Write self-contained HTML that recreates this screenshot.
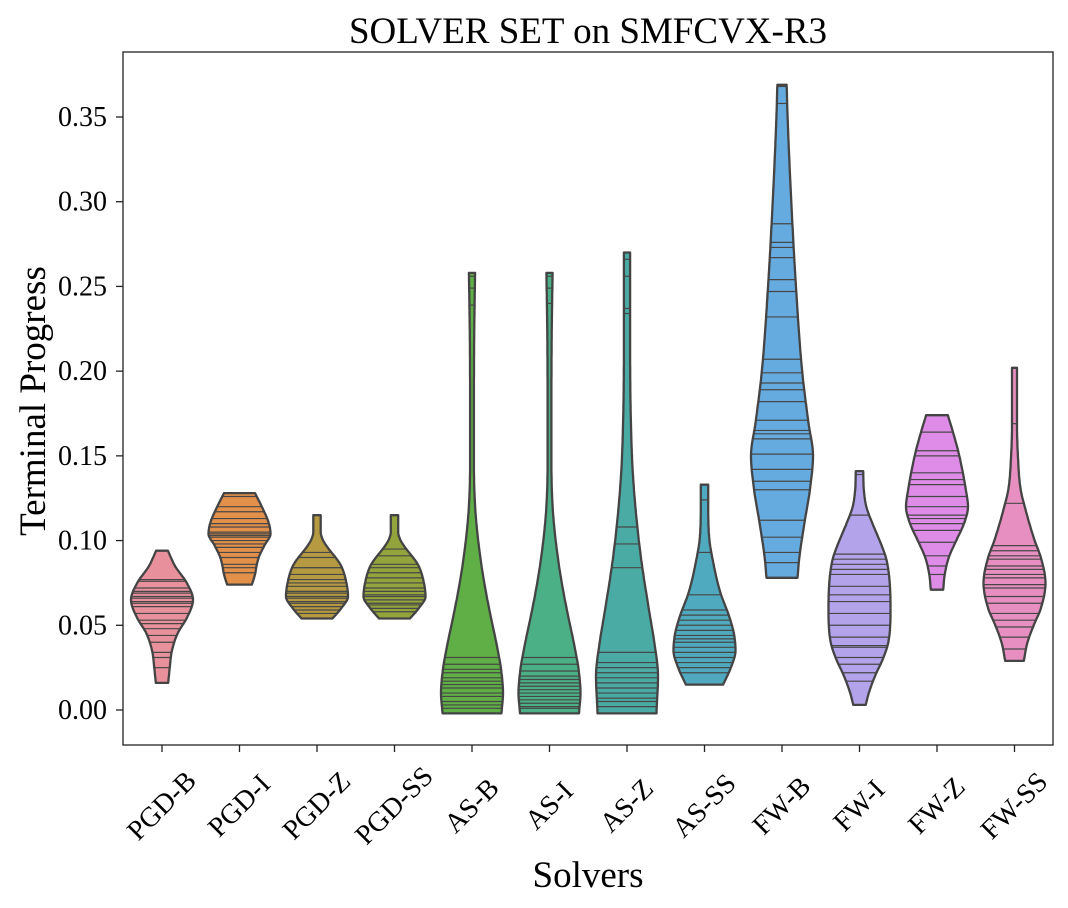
<!DOCTYPE html>
<html><head><meta charset="utf-8"><style>
html,body{margin:0;padding:0;background:#fff;}
svg{display:block;font-family:"Liberation Serif",serif;}
</style></head><body>
<svg id="chart" width="1068" height="908" viewBox="0 0 1068 908">
<text x="588" y="43" font-size="37" text-anchor="middle">SOLVER SET on SMFCVX-R3</text>
<text x="588" y="887" font-size="37" text-anchor="middle">Solvers</text>
<text transform="translate(45,401) rotate(-90)" font-size="37" text-anchor="middle">Terminal Progress</text>
<g id="plot"></g>
<rect x="123" y="52" width="930" height="693" fill="none" stroke="#222" stroke-width="1.3"/>
</svg>
<script>
const categories = ["PGD-B","PGD-I","PGD-Z","PGD-SS","AS-B","AS-I","AS-Z","AS-SS","FW-B","FW-I","FW-Z","FW-SS"];
const yTicks = [0,0.05,0.10,0.15,0.20,0.25,0.30,0.35];
const yTickLabels = ["0.00","0.05","0.10","0.15","0.20","0.25","0.30","0.35"];
const colors = ["#e8919c","#e3914a","#b59a41","#94a43c","#5fae46","#4bb086","#4aaba5","#4faabf","#66abe0","#b3a3ea","#df8ce8","#e88fc2"];
// density profiles: [value, relative width]
const profiles = [
 [[0.016,0.2],[0.025,0.25],[0.035,0.32],[0.045,0.5],[0.055,0.82],[0.065,1],[0.075,0.8],[0.085,0.42],[0.094,0.19]],
 [[0.074,0.4],[0.08,0.5],[0.085,0.55],[0.09,0.62],[0.097,0.8],[0.104,1],[0.11,0.95],[0.12,0.72],[0.128,0.5]],
 [[0.054,0.5],[0.06,0.78],[0.067,1],[0.075,0.95],[0.085,0.78],[0.09,0.6],[0.095,0.38],[0.1,0.2],[0.105,0.12],[0.115,0.12]],
 [[0.054,0.5],[0.06,0.78],[0.067,1],[0.075,0.95],[0.085,0.78],[0.09,0.6],[0.095,0.38],[0.1,0.2],[0.105,0.12],[0.115,0.12]],
 [[-0.002,0.95],[0.01,1],[0.025,0.93],[0.04,0.78],[0.06,0.55],[0.08,0.35],[0.1,0.2],[0.12,0.1],[0.15,0.06],[0.22,0.07],[0.258,0.1]],
 [[-0.002,0.95],[0.01,1],[0.025,0.93],[0.04,0.78],[0.06,0.55],[0.08,0.35],[0.1,0.2],[0.12,0.1],[0.15,0.06],[0.22,0.07],[0.258,0.1]],
 [[-0.002,0.95],[0.02,1],[0.04,0.88],[0.06,0.7],[0.09,0.45],[0.12,0.27],[0.15,0.16],[0.22,0.1],[0.27,0.1]],
 [[0.015,0.6],[0.025,0.85],[0.035,1],[0.045,0.95],[0.055,0.8],[0.07,0.5],[0.09,0.25],[0.1,0.16],[0.12,0.12],[0.133,0.12]],
 [[0.078,0.5],[0.09,0.56],[0.11,0.72],[0.13,0.9],[0.15,1],[0.17,0.85],[0.2,0.65],[0.25,0.45],[0.3,0.3],[0.35,0.18],[0.369,0.15]],
 [[0.003,0.2],[0.01,0.3],[0.02,0.5],[0.03,0.75],[0.04,0.93],[0.06,1],[0.08,0.95],[0.09,0.85],[0.1,0.65],[0.11,0.42],[0.12,0.22],[0.13,0.14],[0.141,0.12]],
 [[0.071,0.2],[0.08,0.25],[0.09,0.38],[0.1,0.62],[0.11,0.87],[0.12,1],[0.13,0.93],[0.15,0.72],[0.165,0.5],[0.174,0.35]],
 [[0.029,0.3],[0.04,0.42],[0.05,0.62],[0.06,0.85],[0.075,1],[0.09,0.85],[0.1,0.65],[0.12,0.33],[0.13,0.2],[0.15,0.11],[0.17,0.08],[0.202,0.08]]
];
const sticks = [
 [.077,.076,.072,.070,.069,.067,.066,.064,.063,.061,.057,.053,.051,.048,.044,.040,.034,.031,.025],
 [.126,.120,.117,.113,.110,.108,.105,.104,.103,.102,.100,.098,.096,.093,.090,.086,.084,.081],
 [.093,.090,.084,.084,.080,.077,.075,.073,.070,.069,.067,.066,.064,.063,.061,.059,.057],
 [.095,.091,.086,.084,.081,.078,.075,.072,.070,.068,.067,.065,.063,.062,.060,.058],
 [.256,.249,.239,.031,.027,.024,.022,.019,.017,.015,.013,.010,.008,.005,.003,.001],
 [.256,.249,.240,.031,.027,.023,.020,.018,.016,.014,.012,.010,.008,.006,.004,.002,.001],
 [.266,.256,.237,.234,.108,.098,.084,.034,.028,.025,.022,.019,.016,.013,.010,.007,.005,.002],
 [.124,.093,.068,.059,.056,.053,.050,.047,.044,.042,.040,.037,.034,.031,.028,.025,.022],
 [.368,.358,.287,.276,.273,.267,.254,.247,.232,.207,.199,.193,.189,.182,.171,.165,.163,.160,.151,.142,.135,.130,.112,.102,.093,.087],
 [.139,.115,.092,.089,.086,.083,.080,.073,.068,.064,.057,.050,.043,.038,.037,.031,.027,.022,.017],
 [.164,.153,.150,.140,.136,.133,.126,.120,.115,.113,.110,.106,.099,.091,.085,.080],
 [.169,.122,.097,.094,.091,.089,.085,.083,.080,.078,.074,.072,.067,.063,.057,.053,.049,.043,.036]
];

const NS="http://www.w3.org/2000/svg";
const plot=document.getElementById("plot");
const yScale=v=>710-v*1694.3;
const xScale=i=>162+i*77.5;
const HALF=31;
function mk(tag,attrs){const e=document.createElementNS(NS,tag);for(const k in attrs)e.setAttribute(k,attrs[k]);return e;}
function makeInterp(p){
  const n=p.length,xs=p.map(a=>a[0]),ys=p.map(a=>a[1]);
  const d=[],m=[];
  for(let i=0;i<n-1;i++)d.push((ys[i+1]-ys[i])/(xs[i+1]-xs[i]));
  m[0]=d[0];m[n-1]=d[n-2];
  for(let i=1;i<n-1;i++){m[i]=(d[i-1]*d[i]<=0)?0:(d[i-1]+d[i])/2;}
  for(let i=0;i<n-1;i++){
    if(d[i]===0){m[i]=0;m[i+1]=0;continue;}
    const a=m[i]/d[i],b=m[i+1]/d[i],s=a*a+b*b;
    if(s>9){const t=3/Math.sqrt(s);m[i]=t*a*d[i];m[i+1]=t*b*d[i];}
  }
  return v=>{
    if(v<=xs[0])return ys[0];if(v>=xs[n-1])return ys[n-1];
    let i=0;while(v>xs[i+1])i++;
    const h=xs[i+1]-xs[i],t=(v-xs[i])/h,t2=t*t,t3=t2*t;
    return (2*t3-3*t2+1)*ys[i]+(t3-2*t2+t)*h*m[i]+(-2*t3+3*t2)*ys[i+1]+(t3-t2)*h*m[i+1];
  };
}
yTicks.forEach((t,i)=>{
  const y=yScale(t);
  const l=mk("line",{x1:116,x2:123,y1:y,y2:y,stroke:"#222","stroke-width":1.3});
  
  
  plot.appendChild(l);
  const tx=mk("text",{x:107,y:y+9,"font-size":28,"text-anchor":"end"});
  tx.textContent=yTickLabels[i];
  
  
  plot.appendChild(tx);
});
categories.forEach((c,i)=>{
  const cx=xScale(i);
  const p=profiles[i];
  const f=makeInterp(p);
  const lo=p[0][0],hi=p[p.length-1][0];
  const N=120;const right=[],left=[];
  for(let k=0;k<=N;k++){const v=lo+(hi-lo)*k/N;const w=Math.max(0.04,f(v))*HALF;right.push([cx+w,yScale(v)]);left.push([cx-w,yScale(v)]);}
  const pts=right.concat(left.reverse()).map(q=>q[0].toFixed(1)+","+q[1].toFixed(1)).join(" ");
  const g=mk("g",{});
  
  
  const poly=mk("polygon",{points:pts,fill:colors[i],stroke:"none"});
  
  
  g.appendChild(poly);
  sticks[i].forEach(v=>{
    const w=Math.max(0.04,f(v))*HALF;const y=yScale(v);
    const l=mk("line",{x1:cx-w,x2:cx+w,y1:y,y2:y,stroke:"#474747","stroke-width":1.2});
    
    
    g.appendChild(l);
  });
  const outline=mk("polygon",{points:pts,fill:"none",stroke:"#444","stroke-width":2.3,"stroke-linejoin":"round"});
  
  
  g.appendChild(outline);
  plot.appendChild(g);
  const tk=mk("line",{x1:cx,x2:cx,y1:745,y2:752,stroke:"#222","stroke-width":1.3});
  
  
  plot.appendChild(tk);
  const tx=mk("text",{transform:`translate(${cx+6},${812}) rotate(-45)`,"font-size":28,"text-anchor":"middle"});
  tx.textContent=c;
  
  
  plot.appendChild(tx);
});
</script>
</body></html>
